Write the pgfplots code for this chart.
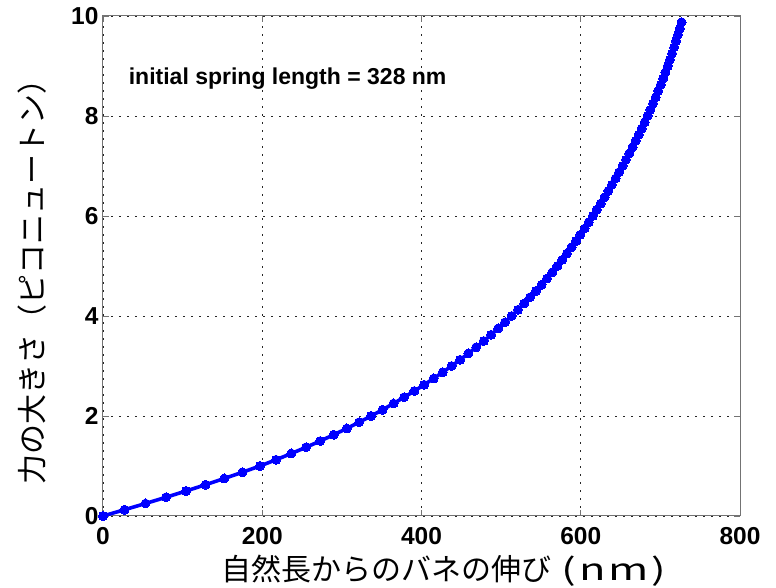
\documentclass[border=0pt]{standalone}
\usepackage{fontspec}
\setmainfont{Liberation Sans}
\newfontfamily\cjk{Noto Sans CJK JP}
\usepackage{pgfplots}
\pgfplotsset{compat=1.18}
\usepackage{pgfplotstable}

% extension (nm) vs force (pN)
\pgfplotstableread{
x F
0 0
27.0 0.125
53.4 0.25
79.2 0.375
104.3 0.5
128.7 0.625
152.3 0.75
175.1 0.875
197.1 1.0
217.3 1.125
236.6 1.25
255.1 1.375
272.8 1.5
289.8 1.625
306.1 1.75
321.7 1.875
336.7 2.0
351.1 2.125
364.9 2.25
378.2 2.375
391.0 2.5
403.3 2.625
415.2 2.75
426.7 2.875
437.8 3.0
448.5 3.125
458.8 3.25
468.7 3.375
478.2 3.5
487.4 3.625
496.3 3.75
504.9 3.875
513.2 4.0
521.2 4.125
528.9 4.25
536.4 4.375
543.7 4.5
550.8 4.625
557.7 4.75
564.3 4.875
570.7 5.0
576.9 5.125
582.7 5.25
588.4 5.375
594.0 5.5
599.5 5.625
604.8 5.75
610.0 5.875
615.1 6.0
620.1 6.125
625.1 6.25
629.9 6.375
634.6 6.5
639.2 6.625
643.7 6.75
648.2 6.875
652.5 7.0
656.8 7.125
660.9 7.25
665.0 7.375
668.9 7.5
672.8 7.625
676.6 7.75
680.3 7.875
683.9 8.0
687.4 8.125
690.8 8.25
694.1 8.375
697.3 8.5
700.5 8.625
703.5 8.75
706.4 8.875
709.3 9.0
712.0 9.125
714.7 9.25
717.3 9.375
719.7 9.5
722.1 9.625
724.4 9.75
726.6 9.875
}\springdata

\begin{document}
\begin{tikzpicture}
\begin{axis}[
  width=637pt, height=500pt, scale only axis,
  xmin=0, xmax=800, ymin=0, ymax=10,
  xtick={0,200,...,800}, ytick={0,2,...,10},
  /pgf/number format/assume math mode=true,
  ticklabel style={font=\fontsize{24.5}{28}\selectfont\bfseries},
  xticklabel style={yshift=-8pt},
  yticklabel style={xshift=-1pt},
  grid=major,
  major grid style={black!85, line width=0.8pt, dash pattern=on 2pt off 6pt},
  axis line style={black!55, line width=1pt},
  tick style={black!55, line width=0.9pt},
  tick align=inside, major tick length=6pt,
  xlabel={\cjk 自然長からのバネの伸び\hspace{0.35em}\scalebox{1.45}[1]{\addfontfeature{LetterSpace=6}(nm)}},
  ylabel={\cjk 力の大きさ（ピコニュートン）},
  xlabel style={font=\fontsize{30}{32}\selectfont, at={(axis description cs:0.5345,-0.128)}, anchor=base},
  ylabel style={font=\fontsize{30}{32}\selectfont, at={(axis description cs:-0.094,0.483)}, anchor=base},
]
\addplot[blue, line width=3.6pt, mark=*, mark size=4.5pt, mark options={fill=blue, draw=blue, line width=0pt}]
  table[x=x, y=F] {\springdata};
\node[anchor=base west, font=\fontsize{23}{28}\selectfont\bfseries]
  at (axis description cs:0.035,0.862) {initial spring length = 328 nm};
\end{axis}
\pgfresetboundingbox
\useasboundingbox ([shift={(-103pt,-72pt)}]current axis.south west) rectangle ([shift={(36pt,16pt)}]current axis.north east);
\end{tikzpicture}
\end{document}
